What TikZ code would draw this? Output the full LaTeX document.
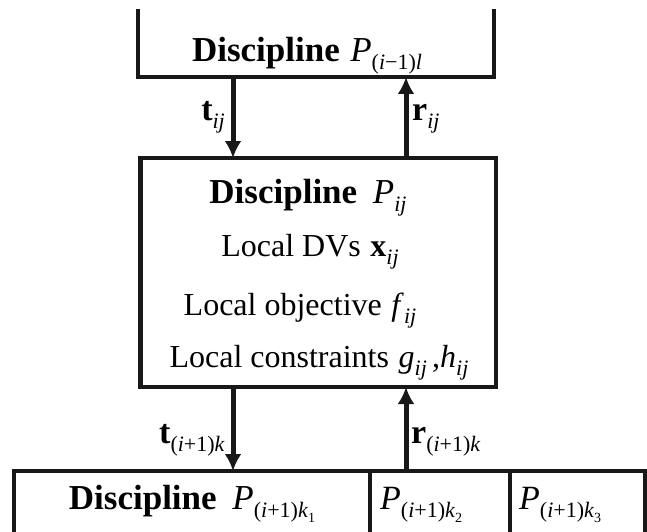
\documentclass[tikz,border=0pt]{standalone}
\usepackage{fontspec}
\setmainfont{Liberation Serif}
\usetikzlibrary{arrows.meta,positioning}
\definecolor{ink}{RGB}{24,24,24}

% italic symbol and its lowered index
\newcommand{\iv}[1]{\textnormal{\itshape #1}}
\newcommand{\idx}[1]{\raisebox{-8pt}{\normalfont\fontsize{22}{22}\selectfont #1}}
\newcommand{\subidx}[1]{\raisebox{-5pt}{\normalfont\fontsize{14}{14}\selectfont #1}}

\begin{document}
\begin{tikzpicture}[x=1pt, y=-1pt,
    edge/.style={line width=4.5pt, draw=ink},
    arr/.style={-{Latex[length=17pt,width=17pt]}, line width=5pt, ink},
    frame/.style={inner sep=0pt, outer sep=0pt},
    head/.style={font=\fontsize{35}{36}\selectfont\bfseries, anchor=base, inner sep=0pt},
    txt/.style={font=\fontsize{32}{34}\selectfont, anchor=base, inner sep=0pt},
    lbl/.style={font=\fontsize{34}{34}\selectfont\bfseries, inner sep=0pt}
  ]
  \useasboundingbox (0,0) rectangle (647,532);

  % parent discipline, open at the top
  \node[frame, minimum width=356pt, minimum height=68pt] (upper) at (316,43) {};
  \draw[edge] (upper.north west) -- (upper.south west) -- (upper.south east) -- (upper.north east);
  \node[head] (uppername) at (307,62) {Discipline\hspace{0.3em}\iv{P}\idx{(\iv{i}−1)\iv{l}}};

  % current discipline
  \node[frame, edge, minimum width=355.5pt, minimum height=229pt] (mid) at (318.25,272.5) {};
  \node[head] (midname) at (308,203) {Discipline\hspace{0.45em}\iv{P}\idx{\iv{ij}}};
  \node[txt] (dvs) at (310,256) {Local DVs\hspace{0.3em}\textbf{x}\idx{\iv{ij}}};
  \node[txt] (obj) at (300,315) {Local objective\hspace{0.3em}\iv{f}\idx{\iv{ij}}};
  \node[txt] (cons) at (319,367) {Local constraints\hspace{0.3em}\iv{g}\idx{\iv{ij}}\,,\iv{h}\idx{\iv{ij}}};

  % children, open at the bottom
  \node[frame, minimum width=631pt, minimum height=61pt] (lower) at (329.5,501.5) {};
  \draw[edge] (lower.south west) -- (lower.north west) -- (lower.north east) -- (lower.south east);
  \coordinate (cut1) at (370,0);
  \coordinate (cut2) at (510,0);
  \draw[edge] (cut1 |- lower.north) -- (cut1 |- lower.south);
  \draw[edge] (cut2 |- lower.north) -- (cut2 |- lower.south);
  \node[head] (lowname) at (192,509) {Discipline\hspace{0.45em}\iv{P}\idx{(\iv{i}+1)\iv{k}\subidx{1}}};
  \node[txt, font=\fontsize{34}{36}\selectfont, anchor=base west] (second) at (380,509) {\iv{P}\idx{(\iv{i}+1)\iv{k}\subidx{2}}};
  \node[txt, font=\fontsize{34}{36}\selectfont, anchor=base west] (third) at (519,509) {\iv{P}\idx{(\iv{i}+1)\iv{k}\subidx{3}}};

  % targets go down, responses come up
  \coordinate (downcol) at (233,0);
  \coordinate (upcol) at (406,0);
  \draw[arr] (downcol |- upper.south) -- (downcol |- mid.north);
  \draw[arr] (upcol |- mid.north) -- (upcol |- upper.south);
  \draw[arr] (downcol |- mid.south) -- (downcol |- lower.north);
  \draw[arr] (upcol |- lower.north) -- (upcol |- mid.south);

  \node[lbl, anchor=base east] (tij) at (225,121) {t\idx{\iv{ij}}};
  \node[lbl, anchor=base west] (rij) at (412,121) {r\idx{\iv{ij}}};
  \node[lbl, anchor=base east] (tnext) at (225,443) {t\idx{(\iv{i}+1)\iv{k}}};
  \node[lbl, anchor=base west] (rnext) at (411,443) {r\idx{(\iv{i}+1)\iv{k}}};
\end{tikzpicture}
\end{document}
